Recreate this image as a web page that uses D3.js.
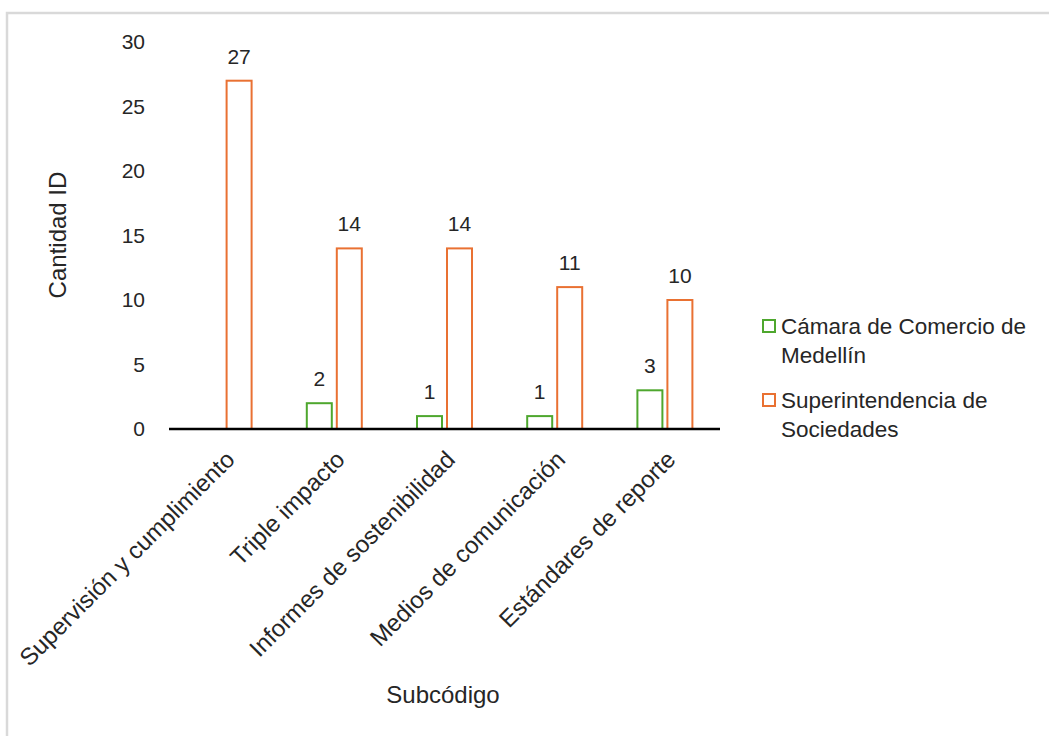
<!DOCTYPE html>
<html>
<head>
<meta charset="utf-8">
<script src="https://cdn.jsdelivr.net/npm/d3@7"></script>
<style>
  body { margin: 0; background: #fff; }
  text { font-family: "Liberation Sans", Arial, sans-serif; fill: #262626; }
</style>
</head>
<body>
<svg id="viz"></svg>
<script>
// chart data
const categories = [
  "Supervisión y cumplimiento",
  "Triple impacto",
  "Informes de sostenibilidad",
  "Medios de comunicación",
  "Estándares de reporte"
];
const seriesNames = ["Cámara de Comercio de Medellín", "Superintendencia de Sociedades"];
const camaraValues = [null, 2, 1, 1, 3];
const superValues = [27, 14, 14, 11, 10];
const yTicks = [0, 5, 10, 15, 20, 25, 30];
const colors = ["#4ea72e", "#e97132"];

const width = 1049, height = 736;
const svg = d3.select("#viz").attr("width", width).attr("height", height);

// outer frame (cut off at right and bottom)
svg.append("rect")
  .attr("x", 7).attr("y", 13)
  .attr("width", width + 10).attr("height", height + 10)
  .attr("fill", "none").attr("stroke", "#d9d9d9").attr("stroke-width", 2.5);

const plot = { left: 169, right: 720, top: 42, bottom: 429 };

const x = d3.scaleBand().domain(categories).range([plot.left, plot.right]);
const y = d3.scaleLinear().domain([0, 30]).range([plot.bottom, plot.top]);
const barW = 25, gap = 5;

const rows = categories.map((c, i) => ({ cat: c, vals: [camaraValues[i], superValues[i]] }));

// y tick labels
svg.append("g").selectAll("text").data(yTicks).enter().append("text")
  .attr("x", 145).attr("y", d => y(d)).attr("dy", "0.35em")
  .attr("text-anchor", "end").style("font-size", "21px")
  .text(d => d);

// bars
const groups = svg.append("g").selectAll("g").data(rows).enter().append("g");
groups.each(function(r) {
  const cx = x(r.cat) + x.bandwidth() / 2;
  const g = d3.select(this);
  r.vals.forEach((v, s) => {
    if (v == null) return;
    const bx = s === 0 ? cx - gap / 2 - barW : cx + gap / 2;
    g.append("rect")
      .attr("x", bx).attr("y", y(v))
      .attr("width", barW).attr("height", y(0) - y(v))
      .attr("fill", "none").attr("stroke", colors[s]).attr("stroke-width", 2);
    g.append("text")
      .attr("x", bx + barW / 2).attr("y", y(v) - 17)
      .attr("text-anchor", "middle").style("font-size", "21px")
      .text(v);
  });
});

// baseline
svg.append("line")
  .attr("x1", plot.left).attr("x2", plot.right)
  .attr("y1", y(0)).attr("y2", y(0))
  .attr("stroke", "#000").attr("stroke-width", 2.5);

// category labels
svg.append("g").selectAll("text").data(categories).enter().append("text")
  .attr("transform", d => `translate(${x(d) + x.bandwidth() / 2 + 12},${plot.bottom + 32}) rotate(-45)`)
  .attr("text-anchor", "end").style("font-size", "24px")
  .text(d => d);

// axis titles
svg.append("text")
  .attr("transform", `translate(66,235) rotate(-90)`)
  .attr("text-anchor", "middle").style("font-size", "24px")
  .text("Cantidad ID");
svg.append("text")
  .attr("x", 443).attr("y", 703)
  .attr("text-anchor", "middle").style("font-size", "24px")
  .text("Subcódigo");

// legend
const legendLines = [["Cámara de Comercio de", "Medellín"], ["Superintendencia de", "Sociedades"]];
const legend = svg.append("g").selectAll("g").data(seriesNames).enter().append("g")
  .attr("transform", (d, i) => `translate(763,${320 + i * 74})`);
legend.append("rect")
  .attr("width", 12).attr("height", 12)
  .attr("fill", "none").attr("stroke", (d, i) => colors[i]).attr("stroke-width", 2);
legend.append("text")
  .attr("x", 18).attr("y", 14).style("font-size", "22.5px")
  .selectAll("tspan").data((d, i) => legendLines[i]).enter().append("tspan")
  .attr("x", 18).attr("dy", (d, j) => j === 0 ? 0 : 29)
  .text(d => d);
</script>
</body>
</html>
